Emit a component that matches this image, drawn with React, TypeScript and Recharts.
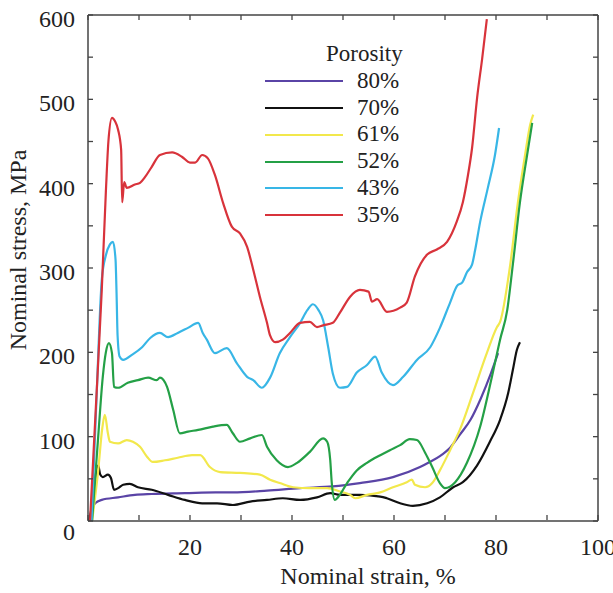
import { LineChart, Line, XAxis, YAxis } from 'recharts';

const FONT = '"Liberation Serif", "Times New Roman", serif';
const AXIS = '#444';

// 80% porosity
const strain80 = [0.2, 0.6, 1.0, 1.4, 2.7, 5.9, 9.2, 12.5, 19, 25, 28.4, 35.1, 41.6, 48, 53.3, 59.8, 65.1, 67, 69, 71, 73, 75, 77, 79, 80.4];
const stress80 = [0, 10, 17, 21, 25, 28, 31, 32, 33, 34, 34, 36, 39, 41, 45, 52, 64, 70, 77, 87, 103, 120, 145, 175, 199];

// 70% porosity
const strain70 = [0.3, 1.0, 1.5, 2.0, 2.4, 2.9, 3.9, 4.5, 5.1, 5.9, 6.9, 8.2, 9.8, 12.5, 15.7, 19, 22.4, 25.3, 28.4, 31.8, 35.1, 38.2, 41.6, 44.9, 47.5, 49.4, 53.3, 57.3, 58.6, 61.2, 63.7, 66.5, 69, 71.6, 73.5, 76.3, 78.8, 80.8, 82.4, 83.3, 84.1, 84.7];
const stress70 = [0, 30, 55, 66, 55, 52, 55, 51, 37, 39, 43, 44, 40, 37, 31, 25, 21, 21, 19, 23, 25, 27, 25, 28, 33, 31, 31, 29, 27, 21, 18, 21, 28, 40, 46, 66, 94, 120, 152, 179, 203, 212];

// 61% porosity
const strain61 = [0.8, 2.0, 2.8, 3.3, 3.9, 4.3, 5.9, 7.6, 8.8, 10.2, 11.6, 12.7, 15.1, 17.6, 20.4, 22, 23.9, 25.9, 29.8, 33.7, 35.7, 37.6, 40.2, 43.5, 46.9, 49.4, 51.4, 52.4, 54.7, 57.3, 59.8, 62.5, 63.5, 64.1, 66.1, 67.5, 69, 71, 72.9, 75.5, 78.2, 80.2, 80.8, 82.7, 84.3, 85.7, 86.7, 87.3];
const stress61 = [0, 60, 110, 126, 104, 94, 92, 96, 94, 88, 76, 70, 72, 75, 78, 78, 64, 58, 57, 55, 49, 45, 40, 39, 39, 35, 31, 27, 31, 34, 40, 46, 49, 43, 40, 45, 60, 84, 108, 152, 199, 230, 236, 300, 378, 434, 470, 482];

// 52% porosity
const strain52 = [0.8, 2.0, 2.9, 3.5, 4.1, 4.7, 5.1, 5.9, 7.8, 9.8, 11.8, 13.5, 14.1, 15.5, 16.7, 18, 19.6, 21.6, 24.5, 27.2, 28.4, 29.8, 31.8, 34.1, 35.1, 37, 39.2, 41, 43.5, 46.1, 46.9, 47.5, 47.8, 48.4, 49, 50.8, 52.7, 54.7, 57.3, 59.2, 61.2, 63.1, 64.5, 66.1, 67.5, 69, 70, 72, 74.3, 76.9, 79.2, 80.8, 82.2, 83.3, 84.7, 86.1, 87.1];
const stress52 = [0, 100, 171, 200, 211, 199, 159, 158, 164, 167, 170, 167, 170, 159, 132, 104, 106, 108, 112, 114, 104, 94, 98, 102, 88, 72, 64, 69, 82, 98, 94, 72, 45, 25, 28, 45, 60, 69, 78, 84, 90, 97, 96, 81, 64, 45, 39, 46, 69, 112, 171, 215, 250, 304, 378, 434, 472];

// 43% porosity
const strain43 = [0.7, 1.7, 2.7, 3.5, 4.3, 4.9, 5.4, 5.6, 5.8, 6.2, 6.9, 8.6, 10.6, 12.2, 14.1, 15.7, 17.6, 19.6, 21.6, 22.5, 23.3, 24.9, 27.2, 29.2, 31.2, 32.4, 34.1, 35.7, 37.6, 39.6, 41.6, 43, 44.1, 45.2, 46.1, 47.1, 48, 49.4, 50.8, 52.7, 54.7, 56.3, 57.6, 59.8, 61.8, 64.5, 67.1, 69, 71, 72.4, 73.4, 74.3, 75.3, 75.9, 76.9, 78.4, 79.8, 80.6];
const stress43 = [0, 150, 286, 315, 328, 331, 310, 270, 220, 195, 191, 197, 206, 217, 223, 218, 223, 229, 235, 223, 215, 199, 205, 187, 171, 167, 158, 170, 199, 218, 235, 250, 257, 250, 238, 206, 175, 158, 159, 176, 185, 195, 176, 161, 171, 191, 206, 229, 259, 279, 283, 295, 304, 321, 355, 395, 434, 466];

// 35% porosity
const strain35 = [0.4, 1.5, 2.7, 3.5, 4.0, 4.7, 5.3, 5.9, 6.5, 6.7, 7.1, 7.6, 9.2, 10.2, 11.2, 12.5, 14.1, 16.5, 18.4, 20, 21, 22.4, 23.5, 24.9, 26.5, 28.2, 29.8, 31.2, 32.4, 33.7, 35.1, 35.7, 36.7, 38.2, 39.6, 41.6, 43.5, 44.9, 46.1, 48, 49.4, 51.4, 53.3, 55, 55.7, 56.7, 58.6, 61.2, 62.5, 64.1, 66.5, 68.4, 70.4, 72.3, 73.5, 74.5, 75.3, 76.3, 77.3, 78.2];
const stress35 = [0, 130, 274, 390, 450, 478, 474, 464, 440, 378, 402, 395, 399, 401, 408, 420, 434, 437, 432, 425, 425, 434, 430, 410, 377, 349, 341, 325, 298, 266, 235, 220, 212, 215, 223, 235, 236, 230, 232, 235, 247, 266, 274, 272, 260, 263, 248, 253, 259, 290, 316, 322, 331, 355, 378, 410, 442, 502, 549, 595];

const xTicks = [0, 10, 20, 30, 40, 50, 60, 70, 80, 90, 100];
const xLabels = [20, 40, 60, 80, 100];
const yTicks = [0, 50, 100, 150, 200, 250, 300, 350, 400, 450, 500, 550, 600];
const yLabels = [0, 100, 200, 300, 400, 500, 600];

const series = [
  { name: '80%', color: '#5a44a6', strain: strain80, stress: stress80 },
  { name: '70%', color: '#111111', strain: strain70, stress: stress70 },
  { name: '61%', color: '#f2e84c', strain: strain61, stress: stress61 },
  { name: '52%', color: '#24a046', strain: strain52, stress: stress52 },
  { name: '43%', color: '#38b6e6', strain: strain43, stress: stress43 },
  { name: '35%', color: '#d8333b', strain: strain35, stress: stress35 },
];

const toPoints = (xs: number[], ys: number[]) => xs.map((x, i) => ({ x, y: ys[i] }));

// tick marks point into the plot box, labels sit outside
function BottomTick({ x, y, payload }: any) {
  const v = payload.value;
  const y0 = y - 1;
  return (
    <g>
      <line x1={x} y1={y0} x2={x} y2={y0 - 5} stroke={AXIS} strokeWidth={1.3} />
      {xLabels.includes(v) && (
        <text x={x} y={y0 + 35} textAnchor="middle" fontSize={24} fontFamily={FONT} fill="#222">
          {v}
        </text>
      )}
    </g>
  );
}

function TopTick({ x, y }: any) {
  return <line x1={x} y1={y} x2={x} y2={y + 5} stroke={AXIS} strokeWidth={1.3} />;
}

function LeftTick({ x, y, payload }: any) {
  const v = payload.value;
  return (
    <g>
      <line x1={x} y1={y} x2={x + 5} y2={y} stroke={AXIS} strokeWidth={1.3} />
      {yLabels.includes(v) && (
        <text x={x - 13} y={v === 0 ? y + 19 : y + 12} textAnchor="end" fontSize={24} fontFamily={FONT} fill="#222">
          {v}
        </text>
      )}
    </g>
  );
}

function RightTick({ x, y }: any) {
  return <line x1={x} y1={y} x2={x - 5} y2={y} stroke={AXIS} strokeWidth={1.3} />;
}

export default function App() {
  return (
    <div style={{ position: 'absolute', left: 0, top: 0, width: 613, height: 593, background: '#fff', fontFamily: FONT }}>
      <LineChart width={613} height={593} margin={{ top: 14, right: 14, bottom: 71, left: 87 }}>
        <XAxis
          xAxisId="b"
          type="number"
          dataKey="x"
          domain={[0, 100]}
          ticks={xTicks}
          allowDataOverflow
          height={1}
          tickSize={0}
          tickMargin={0}
          tickLine={false}
          tick={<BottomTick />}
          axisLine={{ stroke: AXIS, strokeWidth: 1.5 }}
        />
        <XAxis
          xAxisId="t"
          orientation="top"
          type="number"
          dataKey="x"
          domain={[0, 100]}
          ticks={xTicks}
          allowDataOverflow
          height={1}
          tickSize={0}
          tickMargin={0}
          tickLine={false}
          tick={<TopTick />}
          axisLine={{ stroke: AXIS, strokeWidth: 1.5 }}
        />
        <YAxis
          yAxisId="l"
          type="number"
          domain={[0, 600]}
          ticks={yTicks}
          allowDataOverflow
          width={1}
          tickSize={0}
          tickMargin={0}
          tickLine={false}
          tick={<LeftTick />}
          axisLine={{ stroke: AXIS, strokeWidth: 1.5 }}
        />
        <YAxis
          yAxisId="r"
          orientation="right"
          type="number"
          domain={[0, 600]}
          ticks={yTicks}
          allowDataOverflow
          width={1}
          tickSize={0}
          tickMargin={0}
          tickLine={false}
          tick={<RightTick />}
          axisLine={{ stroke: AXIS, strokeWidth: 1.5 }}
        />
        {series.map((s) => (
          <Line
            key={s.name}
            xAxisId="b"
            yAxisId="l"
            data={toPoints(s.strain, s.stress)}
            dataKey="y"
            type="monotoneX"
            stroke={s.color}
            strokeWidth={2.2}
            dot={false}
            isAnimationActive={false}
          />
        ))}
        {series.map((s) => (
          <Line
            key={'t' + s.name}
            xAxisId="t"
            yAxisId="r"
            data={toPoints(s.strain, s.stress)}
            dataKey="y"
            stroke="none"
            dot={false}
            legendType="none"
            isAnimationActive={false}
          />
        ))}
      </LineChart>

      <div style={{ position: 'absolute', left: 265, top: 41, fontSize: 23, color: '#222' }}>
        <div style={{ height: 26.8, lineHeight: '26.8px', paddingLeft: 61 }}>Porosity</div>
        {series.map((s) => (
          <div key={s.name} style={{ height: 26.8, display: 'flex', alignItems: 'center' }}>
            <span style={{ display: 'inline-block', width: 78, height: 2, background: s.color, marginRight: 14 }} />
            <span style={{ lineHeight: '26.8px' }}>{s.name}</span>
          </div>
        ))}
      </div>

      <div style={{ position: 'absolute', left: 88, width: 560, top: 562, textAlign: 'center', fontSize: 24, color: '#222', lineHeight: '28px' }}>
        Nominal strain, %
      </div>
      <div
        style={{
          position: 'absolute',
          left: 18,
          top: 250,
          transform: 'translate(-50%, -50%) rotate(-90deg)',
          whiteSpace: 'nowrap',
          fontSize: 24,
          color: '#222',
          lineHeight: '28px',
        }}
      >
        Nominal stress, MPa
      </div>
    </div>
  );
}
